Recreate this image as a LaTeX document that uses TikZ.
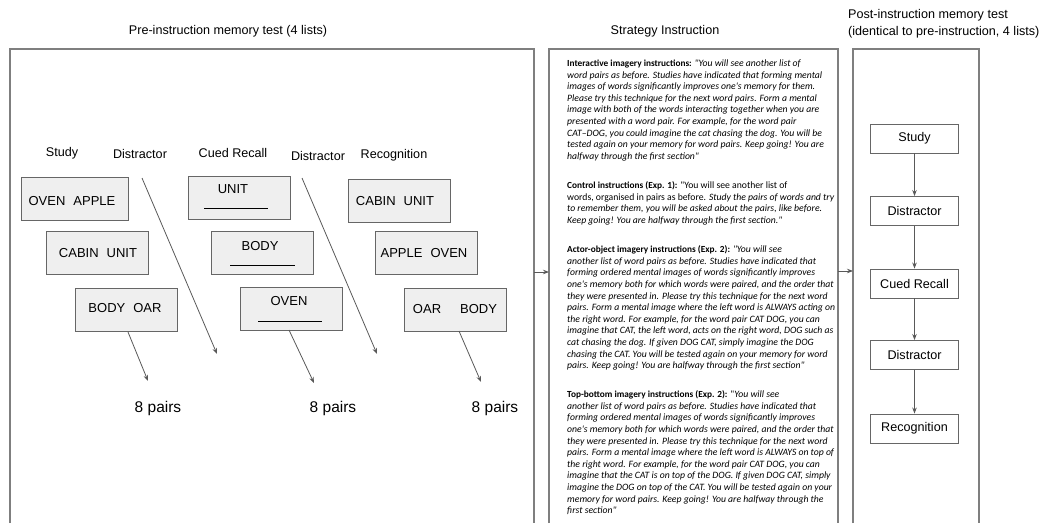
\documentclass[tikz,border=0pt]{standalone}
\usepackage{fontspec}
\setmainfont{Liberation Sans}
\newfontfamily\calfont{Carlito}
\usetikzlibrary{arrows.meta,calc}
\definecolor{framegray}{HTML}{7F7F7F}
\definecolor{boxgray}{HTML}{666666}
\definecolor{boxfill}{HTML}{EFEFEF}
\definecolor{arrowgray}{HTML}{595959}
\newcommand{\hd}[1]{{\fontsize{9.3}{11.6}\selectfont\bfseries #1}}
\begin{document}
\begin{tikzpicture}[x=1pt,y=-1pt,
  frame/.style={draw=framegray, line width=1.1pt},
  wordbox/.style={draw=boxgray, fill=boxfill, line width=0.9pt, minimum width=102pt, minimum height=43pt, inner sep=0pt},
  wtext/.style={inner sep=0pt, font=\fontsize{13}{15}\selectfont},
  stepbox/.style={draw=boxgray, fill=white, line width=0.9pt, minimum width=88pt, minimum height=29pt, inner sep=0pt, font=\fontsize{12.6}{14}\selectfont},
  lab/.style={font=\fontsize{12.6}{16.5}\selectfont, inner sep=0pt},
  pairs/.style={font=\fontsize{15.5}{17}\selectfont, inner sep=0pt},
  conn/.style={draw=arrowgray, line width=0.8pt, -{Stealth[length=6pt,width=4.5pt]}},
  para/.style={anchor=north west, inner sep=0pt, align=left, font=\calfont\fontsize{9.7}{11.6}\selectfont},
  uline/.style={draw=black, line width=0.9pt}
]
\useasboundingbox (0,0) rectangle (1047,523);

% titles
\node[lab] (t1) at (228,31) {Pre-instruction memory test (4 lists)};
\node[lab] (t2) at (665,31) {Strategy Instruction};
\node[lab, anchor=west, align=left] (t3) at (848,23.5) {Post-instruction memory test\\(identical to pre-instruction, 4 lists)};

% frames
\draw[frame] (10,523) -- (10,49) -- (534,49) -- (534,523);
\draw[frame] (549,523) -- (549,49) -- (838,49) -- (838,523);
\draw[frame] (853,523) -- (853,49) -- (979,49) -- (979,523);

\coordinate (lr) at (534,272);
\coordinate (ml) at (549,272);
\coordinate (mr) at (838,271);
\coordinate (rl) at (853,271);
\draw[conn] (lr) -- (ml);
\draw[conn] (mr) -- (rl);

% phase labels
\node[lab] (lstudy) at (62,153) {Study};
\node[lab] (ldis1) at (140,154) {Distractor};
\node[lab] (lcr) at (233,153) {Cued Recall};
\node[lab] (ldis2) at (318,156) {Distractor};
\node[lab] (lrec) at (394,155) {Recognition};

% study boxes
\node[wordbox, minimum width=107pt] (s1) at (74.5,198.5) {};
\node[wtext] (s1t) at (72,201) {OVEN\hspace{8pt}APPLE};
\node[wordbox] (s2) at (97,253) {};
\node[wtext] (s2t) at (98,253) {CABIN\hspace{8pt}UNIT};
\node[wordbox] (s3) at (126.5,310) {};
\node[wtext] (s3t) at (125,308) {BODY\hspace{8pt}OAR};

% cued recall boxes
\node[wordbox] (c1) at (239,197.5) {};
\node[wtext] (c1t) at (233,189) {UNIT};
\draw[uline] (204,208) -- (268,208);
\node[wordbox] (c2) at (262.5,253) {};
\node[wtext] (c2t) at (260,246) {BODY};
\draw[uline] (230,265) -- (295,265);
\node[wordbox] (c3) at (291.5,308.5) {};
\node[wtext] (c3t) at (289,301) {OVEN};
\draw[uline] (258,321) -- (322,321);

% recognition boxes
\node[wordbox] (r1) at (399,201) {};
\node[wtext] (r1t) at (395,201) {CABIN\hspace{8pt}UNIT};
\node[wordbox] (r2) at (426,253) {};
\node[wtext] (r2t) at (424,253) {APPLE\hspace{8pt}OVEN};
\node[wordbox] (r3) at (455,309.5) {};
\node[wtext] (r3t) at (455,309) {OAR\hspace{19pt}BODY};

% arrows to 8 pairs
\coordinate (a1s) at (128,332);
\coordinate (a1e) at (148,381);
\coordinate (d1s) at (142,178);
\coordinate (d1e) at (217,354);
\coordinate (a3s) at (289,330);
\coordinate (a3e) at (314,383);
\coordinate (d2s) at (302,178);
\coordinate (d2e) at (377,354);
\coordinate (a5s) at (459,331);
\coordinate (a5e) at (481,382);
\draw[conn] (a1s) -- (a1e);
\draw[conn] (d1s) -- (d1e);
\draw[conn] (a3s) -- (a3e);
\draw[conn] (d2s) -- (d2e);
\draw[conn] (a5s) -- (a5e);

\node[pairs] (pp1) at (158,408) {8 pairs};
\node[pairs] (pp2) at (333,408) {8 pairs};
\node[pairs] (pp3) at (495,408) {8 pairs};

% post-instruction steps
\node[stepbox] (p1) at (914.5,138.5) {Study};
\node[stepbox] (p2) at (914.5,211) {Distractor};
\node[stepbox] (p3) at (914.5,283.5) {Cued Recall};
\node[stepbox] (p4) at (914.5,355) {Distractor};
\node[stepbox] (p5) at (914.5,428.5) {Recognition};
\draw[conn] (p1) -- (p2);
\draw[conn] (p2) -- (p3);
\draw[conn] (p3) -- (p4);
\draw[conn] (p4) -- (p5);

% strategy instruction text
\node[para] (i1) at (567,59.5) {%
\hd{Interactive imagery instructions:} {\itshape "You will see another list of}\\
\itshape word pairs as before. Studies have indicated that forming mental\\
\itshape images of words significantly improves one's memory for them.\\
\itshape Please try this technique for the next word pairs. Form a mental\\
\itshape image with both of the words interacting together when you are\\
\itshape presented with a word pair. For example, for the word pair\\
\itshape CAT–DOG, you could imagine the cat chasing the dog. You will be\\
\itshape tested again on your memory for word pairs. Keep going! You are\\
\itshape halfway through the first section"};

\node[para] (i2) at (567,181.5) {%
\hd{Control instructions (Exp. 1):} "You will see another list of\\
words, organised in pairs as before. {\itshape Study the pairs of words and try}\\
\itshape to remember them, you will be asked about the pairs, like before.\\
\itshape Keep going! You are halfway through the first section."};

\node[para] (i3) at (567,245.5) {%
\hd{Actor-object imagery instructions (Exp. 2):} {\itshape "You will see}\\
\itshape another list of word pairs as before. Studies have indicated that\\
\itshape forming ordered mental images of words significantly improves\\
\itshape one's memory both for which words were paired, and the order that\\
\itshape they were presented in. Please try this technique for the next word\\
\itshape pairs. Form a mental image where the left word is ALWAYS acting on\\
\itshape the right word. For example, for the word pair CAT DOG, you can\\
\itshape imagine that CAT, the left word, acts on the right word, DOG such as\\
\itshape cat chasing the dog. If given DOG CAT, simply imagine the DOG\\
\itshape chasing the CAT. You will be tested again on your memory for word\\
\itshape pairs. Keep going! You are halfway through the first section"};

\node[para] (i4) at (567,390.5) {%
\hd{Top-bottom imagery instructions (Exp. 2):} "{\itshape You will see}\\
\itshape another list of word pairs as before. Studies have indicated that\\
\itshape forming ordered mental images of words significantly improves\\
\itshape one's memory both for which words were paired, and the order that\\
\itshape they were presented in. Please try this technique for the next word\\
\itshape pairs. Form a mental image where the left word is ALWAYS on top of\\
\itshape the right word. For example, for the word pair CAT DOG, you can\\
\itshape imagine that the CAT is on top of the DOG. If given DOG CAT, simply\\
\itshape imagine the DOG on top of the CAT. You will be tested again on your\\
\itshape memory for word pairs. Keep going! You are halfway through the\\
\itshape first section"};
\end{tikzpicture}
\end{document}
